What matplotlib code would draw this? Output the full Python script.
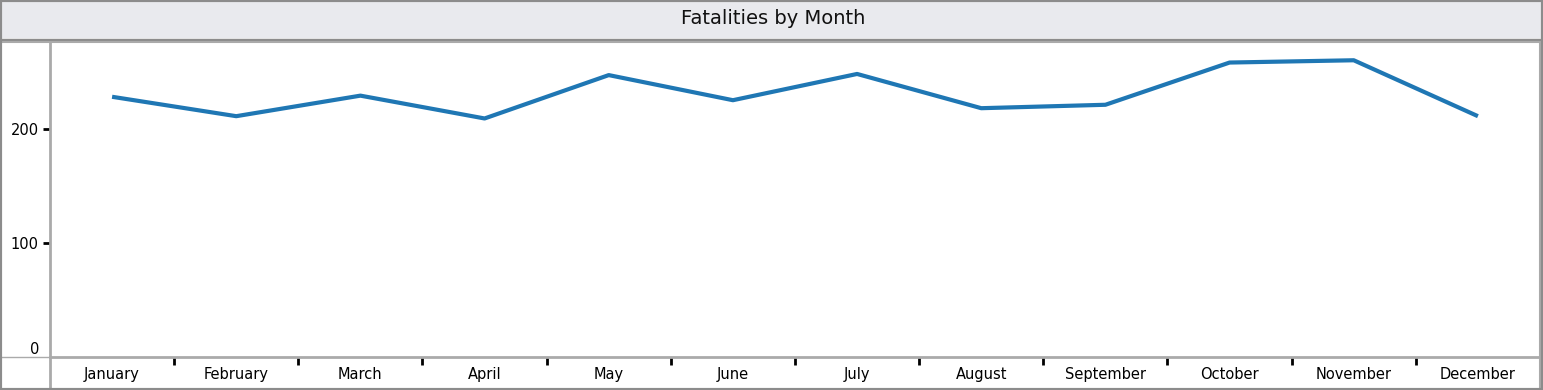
import matplotlib
matplotlib.use("Agg")
import matplotlib.pyplot as plt
from matplotlib.patches import Rectangle
from matplotlib.lines import Line2D
import numpy as np

months = ["January", "February", "March", "April", "May", "June", "July",
          "August", "September", "October", "November", "December"]
fatalities = [228, 211, 229, 209, 247, 225, 248, 218, 221, 258, 260, 211]
y_ticks = [0, 100, 200]

W, H = 1543, 390
fig = plt.figure(figsize=(W / 100, H / 100), dpi=100)
fig.patch.set_facecolor("white")

def fx(px):
    return px / W

def fy(py):
    return 1 - py / H

# title band
fig.patches.append(Rectangle((fx(2), fy(38)), fx(1539), 36 / H, transform=fig.transFigure,
                             facecolor="#e9eaee", edgecolor="none", zorder=0))
fig.text(fx(773), fy(19), "Fatalities by Month", ha="center", va="center", fontsize=14,
         color="#111111")

ax = fig.add_axes([fx(50), fy(357), fx(1490), (357 - 42) / H])
x = np.arange(len(months))
ax.plot(x, fatalities, color="#1f77b4", linewidth=3, solid_capstyle="butt")
ax.set_xlim(-0.5, len(months) - 0.5)
ax.set_ylim(0, 276)

ax.set_xticks(x)
ax.set_xticklabels(months, fontsize=10.5)
ax.tick_params(axis="x", which="major", length=0, pad=7.5)
ax.set_xticks(np.arange(0.5, len(months) - 0.5, 1), minor=True)
ax.tick_params(axis="x", which="minor", length=6, width=2, color="black", direction="out")

ax.set_yticks(y_ticks)
ax.set_yticklabels([str(v) for v in y_ticks], fontsize=10.5)
ax.tick_params(axis="y", length=5, width=2, color="black", pad=3)
lbl0 = ax.get_yticklabels()[0]
lbl0.set_va("bottom")
ax.get_yticklines()[0].set_visible(False)

for side in ["top", "right"]:
    ax.spines[side].set_visible(False)
for side in ["left", "bottom"]:
    ax.spines[side].set_color("#aaaaaa")
    ax.spines[side].set_linewidth(2)

# frame lines
gray = "#8c8c8c"
light = "#aaaaaa"
fig.lines.append(Line2D([fx(50), fx(50)], [fy(357), fy(390)], transform=fig.transFigure,
                        color=light, linewidth=2))
fig.lines.append(Line2D([fx(0), fx(50)], [fy(357), fy(357)], transform=fig.transFigure,
                        color=light, linewidth=1))
fig.lines.append(Line2D([fx(1540), fx(1540)], [fy(42), fy(390)], transform=fig.transFigure,
                        color=light, linewidth=1.5))
fig.lines.append(Line2D([0, 1], [fy(39.5), fy(39.5)], transform=fig.transFigure,
                        color=gray, linewidth=2.5))
fig.lines.append(Line2D([0, 1], [fy(42), fy(42)], transform=fig.transFigure,
                        color=light, linewidth=1.5))
fig.patches.append(Rectangle((0, 0), 1, 1, transform=fig.transFigure, facecolor="none",
                             edgecolor=gray, linewidth=3, zorder=5))

fig.savefig("out.png", dpi=100)
